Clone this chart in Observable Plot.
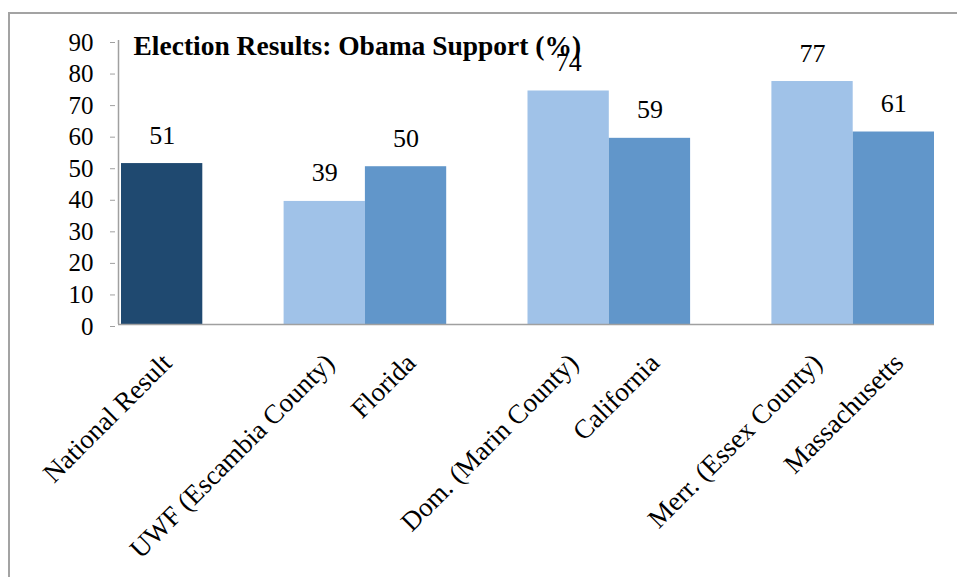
<!DOCTYPE html>
<html>
<head>
<meta charset="utf-8">
<script src="https://cdn.jsdelivr.net/npm/d3@7"></script>
<script src="https://cdn.jsdelivr.net/npm/@observablehq/plot@0.6"></script>
<style>
  html, body { margin: 0; padding: 0; background: #fff; }
  #wrap { position: relative; width: 957px; height: 577px; overflow: hidden; }
  #frame { position: absolute; left: 8px; top: 12px; right: -10px; bottom: -10px;
           border-top: 2px solid #a3a3a3; border-left: 2px solid #a3a3a3; }
  #wrap svg { position: absolute; left: 0; top: 0; }
</style>
</head>
<body>
<div id="wrap"><div id="frame"></div></div>
<script>
const title = "Election Results: Obama Support (%)";
const categories = ["National Result", "UWF (Escambia County)", "Florida", "Dom. (Marin County)", "California", "Merr. (Essex County)", "Massachusetts"];
const values = [51, 39, 50, 74, 59, 77, 61];
const kinds = ["National", "Local", "State", "Local", "State", "Local", "State"];
const groups = [0, 1, 1, 2, 2, 3, 3];
const within = [0, 0, 1, 0, 1, 0, 1];
const yTicks = [0, 10, 20, 30, 40, 50, 60, 70, 80, 90];
const colors = {National: "#1f4970", Local: "#a0c2e8", State: "#6196ca"};

// slot index on the category axis (one empty slot between groups)
const data = categories.map((c, i) => {
  const slot = groups[i] === 0 ? 0 : 3 * groups[i] - 1 + within[i];
  return {category: c, value: values[i], kind: kinds[i], slot};
});

const serif = "'Liberation Serif', 'DejaVu Serif', serif";

const chart = Plot.plot({
  width: 957,
  height: 577,
  marginLeft: 118,
  marginRight: 23,
  marginTop: 40,
  marginBottom: 253,
  style: {fontFamily: serif, color: "#000", background: "transparent", overflow: "visible"},
  x: {domain: [0, 10], insetLeft: 3, axis: null},
  y: {domain: [0, 90], axis: null},
  marks: [
    Plot.rectY(data, {x1: "slot", x2: d => d.slot + 1, y: "value", fill: d => colors[d.kind]}),
    Plot.ruleY([0], {stroke: "#a0a0a0", strokeWidth: 1.5}),
    Plot.ruleX([0], {y1: 0, y2: 90, dx: -3, stroke: "#a0a0a0", strokeWidth: 1.5}),
    Plot.axisY({ticks: yTicks, tickSize: 5, tickPadding: 17, stroke: "#a0a0a0", fill: "#000",
                fontSize: 25, dx: -3, dy: 2, label: null}),
    Plot.text(data, {x: d => d.slot + 0.5, y: "value", text: d => String(d.value),
                     lineAnchor: "bottom", dy: -20, fontSize: 26, fill: "#000"}),
    Plot.text(data, {x: d => d.slot + 0.5, y: () => 0, text: "category",
                     textAnchor: "end", lineAnchor: "middle", rotate: -45, dx: 5, dy: 34,
                     fontSize: 27, fill: "#000"}),
    Plot.text([title], {frameAnchor: "top-left", text: d => d, textAnchor: "start", lineAnchor: "middle",
                        dx: 15, dy: 6, fontSize: 27.5, fontWeight: "bold", fill: "#000"})
  ]
});

document.getElementById("wrap").appendChild(chart);
</script>
</body>
</html>
